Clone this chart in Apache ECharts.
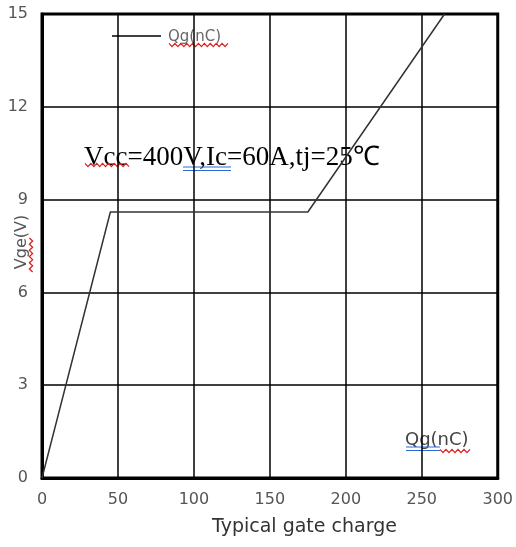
<!DOCTYPE html>
<html><head><meta charset="utf-8">
<script src="https://cdn.jsdelivr.net/npm/echarts@6/dist/echarts.min.js"></script>
<style>html,body{margin:0;padding:0;background:#fff}#c{width:516px;height:547px}</style>
</head><body><div id="c"></div>
<script>
var chargeQg = [0, 45, 175, 265];
var voltageVge = [0, 8.6, 8.6, 15];
var xTicks = [0, 50, 100, 150, 200, 250, 300];
var yTicks = [0, 3, 6, 9, 12, 15];

function wavy(x1, x2, y, vertical) {
  var pts = [];
  var n = Math.round(Math.abs(x2 - x1) / 3);
  for (var i = 0; i <= n; i++) {
    var p = x1 + (x2 - x1) * i / n;
    var o = (i % 2 === 0) ? -1.6 : 1.6;
    pts.push(vertical ? [y + o, p] : [p, y + o]);
  }
  return { type: 'polyline', shape: { points: pts }, style: { stroke: '#e02020', lineWidth: 1.3, fill: null } };
}
function dbl(x1, x2, y) {
  return [
    { type: 'line', shape: { x1: x1, y1: y, x2: x2, y2: y }, style: { stroke: '#2a6ad8', lineWidth: 1.2 } },
    { type: 'line', shape: { x1: x1, y1: y + 3.5, x2: x2, y2: y + 3.5 }, style: { stroke: '#2a6ad8', lineWidth: 1.2 } }
  ];
}

var chart = echarts.init(document.getElementById('c'));
var data = chargeQg.map(function (q, i) { return [q, voltageVge[i]]; });
var graphics = [
  { type: 'line', shape: { x1: 112, y1: 36, x2: 161, y2: 36 }, style: { stroke: '#000', lineWidth: 1.5 } },
  { type: 'text', left: 168, top: 30, style: { text: 'Qg(nC)', fill: '#666', font: '15px DejaVu Sans' } },
  { type: 'text', x: 84, y: 171, style: { text: 'Vcc=400V,Ic=60A,tj=25℃', fill: '#000', font: '27px Liberation Serif', verticalAlign: 'bottom' } },
  { type: 'text', left: 405, top: 431, style: { text: 'Qg(nC)', fill: '#444', font: '18px DejaVu Sans' } },
  { type: 'text', x: 22, y: 242, rotation: Math.PI / 2, style: { text: 'Vge(V)', fill: '#555', font: '16px DejaVu Sans', align: 'center', verticalAlign: 'middle' } },
  { type: 'text', left: 212, top: 518, style: { text: 'Typical gate charge', fill: '#333', font: '19px DejaVu Sans' } },
  wavy(169, 228, 45),
  wavy(85, 129, 165),
  wavy(440, 470, 451),
  wavy(238, 272, 31, true)
].concat(dbl(183, 231, 167)).concat(dbl(406, 440, 447));

chart.setOption({
  animation: false,
  grid: { left: 42, right: 17, top: 14, bottom: 69, show: true, borderColor: '#000', borderWidth: 3, backgroundColor: 'transparent' },
  xAxis: {
    type: 'value', min: 0, max: 300, interval: 50,
    axisLine: { show: true, lineStyle: { color: '#000', width: 3 } },
    axisTick: { show: false },
    splitLine: { show: true, lineStyle: { color: '#000', width: 1.5 } },
    axisLabel: { color: '#555', fontSize: 16, fontFamily: 'DejaVu Sans', margin: 14 }
  },
  yAxis: {
    type: 'value', min: 0, max: 15, interval: 3,
    axisLine: { show: true, lineStyle: { color: '#000', width: 3 } },
    axisTick: { show: false },
    splitLine: { show: true, lineStyle: { color: '#000', width: 1.5 } },
    axisLabel: { color: '#555', fontSize: 16, fontFamily: 'DejaVu Sans', margin: 14 }
  },
  series: [{
    type: 'line', data: data, symbol: 'none',
    lineStyle: { color: '#333', width: 1.5 }
  }],
  graphic: graphics
});
</script></body></html>
